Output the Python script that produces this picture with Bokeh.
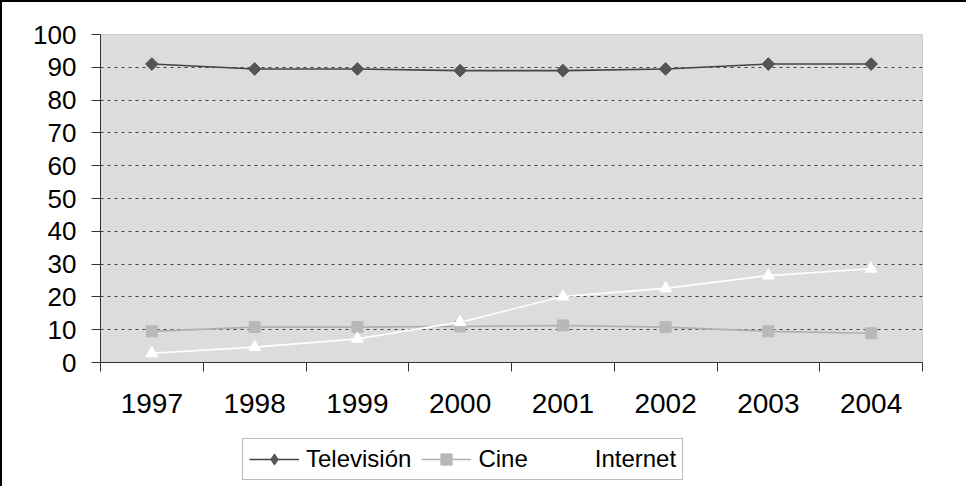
import math
from bokeh.plotting import figure
from bokeh.layouts import column
from bokeh.models import FixedTicker, Legend, LegendItem, Range1d, ColumnDataSource
from bokeh.embed import file_html
from bokeh.resources import INLINE

years = ["1997", "1998", "1999", "2000", "2001", "2002", "2003", "2004"]
television = [91, 89.5, 89.5, 89, 89, 89.5, 91, 91]
cine = [9.5, 10.8, 10.8, 11, 11.3, 10.8, 9.5, 8.9]
internet = [2.8, 4.7, 7.2, 12.3, 20.1, 22.6, 26.5, 28.6]
y_ticks = [0, 10, 20, 30, 40, 50, 60, 70, 80, 90, 100]
series_names = ["Televisión", "Cine", "Internet"]

xpos = list(range(1, len(years) + 1))
src = ColumnDataSource(dict(x=xpos, tv=television, cine=cine, net=internet))

FONT = "Liberation Sans"

TV_STYLE = dict(line=dict(line_color="#444444", line_width=1.6),
                mark=dict(marker="square", angle=math.pi / 4, size=9,
                          fill_color="#555555", line_color="#555555"),
                leg=dict(marker="diamond", size=12, fill_color="#555555", line_color="#555555"))
CI_STYLE = dict(line=dict(line_color="#b0b0b0", line_width=1.6),
                mark=dict(marker="square", size=11, fill_color="#b8b8b8", line_color="#b8b8b8"),
                leg=dict(marker="square", size=8, fill_color="#b8b8b8", line_color="#b8b8b8"))
IN_STYLE = dict(line=dict(line_color="white", line_width=1.6),
                mark=dict(marker="triangle", size=12, fill_color="white", line_color="white"),
                leg=dict(marker="triangle", size=9, fill_color="white", line_color="white"))

p = figure(width=964, height=430, output_backend="svg", toolbar_location=None,
           x_range=Range1d(0.5, len(years) + 0.5), y_range=Range1d(0, 100),
           min_border_left=98, min_border_right=44, min_border_top=32, min_border_bottom=70)
p.border_fill_color = "white"
p.background_fill_color = "#dcdcdc"
p.outline_line_color = "#cfcfcf"

# axes
p.xaxis.ticker = FixedTicker(ticks=xpos, minor_ticks=[i + 0.5 for i in range(0, len(years) + 1)])
p.xaxis.major_label_overrides = {i: y for i, y in zip(xpos, years)}
p.xaxis.major_tick_line_color = None
p.xaxis.minor_tick_line_color = "#333333"
p.xaxis.minor_tick_out = 9
p.xaxis.minor_tick_in = 0
p.xaxis.major_tick_out = 9
p.xaxis.major_label_standoff = 22
p.xaxis.major_label_text_font = FONT
p.xaxis.major_label_text_font_size = "28px"
p.xaxis.major_label_text_color = "black"
p.xaxis.axis_line_color = "#333333"

p.yaxis.ticker = FixedTicker(ticks=y_ticks)
p.yaxis.minor_tick_line_color = None
p.yaxis.major_tick_out = 9
p.yaxis.major_tick_in = 0
p.yaxis.major_tick_line_color = "#333333"
p.yaxis.axis_line_color = "#333333"
p.yaxis.major_label_standoff = 15
p.yaxis.major_label_text_font = FONT
p.yaxis.major_label_text_font_size = "26px"
p.yaxis.major_label_text_color = "black"

p.xgrid.grid_line_color = None
p.ygrid.ticker = FixedTicker(ticks=y_ticks[1:-1])
p.ygrid.grid_line_color = "#444444"
p.ygrid.grid_line_dash = "3 4"
p.ygrid.grid_line_width = 1

# series
p.line("x", "tv", source=src, **TV_STYLE["line"])
p.scatter("x", "tv", source=src, **TV_STYLE["mark"])
p.line("x", "cine", source=src, **CI_STYLE["line"])
p.scatter("x", "cine", source=src, **CI_STYLE["mark"])
p.line("x", "net", source=src, **IN_STYLE["line"])
p.scatter("x", "net", source=src, **IN_STYLE["mark"])

# legend figure (holds only the legend; its glyph renderers sit outside its visible range)
lg = figure(width=964, height=54, output_backend="svg", toolbar_location=None,
            x_range=Range1d(0, 1), y_range=Range1d(0, 1), min_border=0,
            x_axis_location=None, y_axis_location=None)
lg.grid.grid_line_color = None
lg.outline_line_color = None
lg.background_fill_color = "white"
lg.border_fill_color = "white"
items = []
for name, st in zip(series_names, [TV_STYLE, CI_STYLE, IN_STYLE]):
    r1 = lg.line([-5, -4], [-5, -4], **st["line"])
    r2 = lg.scatter([-5], [-5], **st["leg"])
    items.append(LegendItem(label=name, renderers=[r1, r2]))

legend = Legend(items=items, orientation="horizontal", location=(142, 6))
legend.label_text_font = FONT
legend.label_text_font_size = "24px"
legend.label_text_color = "black"
legend.glyph_width = 50
legend.glyph_height = 28
legend.label_standoff = 7
legend.spacing = 10
legend.padding = 6
legend.margin = 0
legend.border_line_color = "#777777"
legend.border_line_width = 1
legend.background_fill_color = "white"
legend.background_fill_alpha = 1
lg.add_layout(legend, "center")

layout = column(p, lg, spacing=0)
layout.styles = {"border-top": "2px solid black", "border-left": "2px solid black"}

open("out.html", "w").write(file_html(layout, INLINE))
